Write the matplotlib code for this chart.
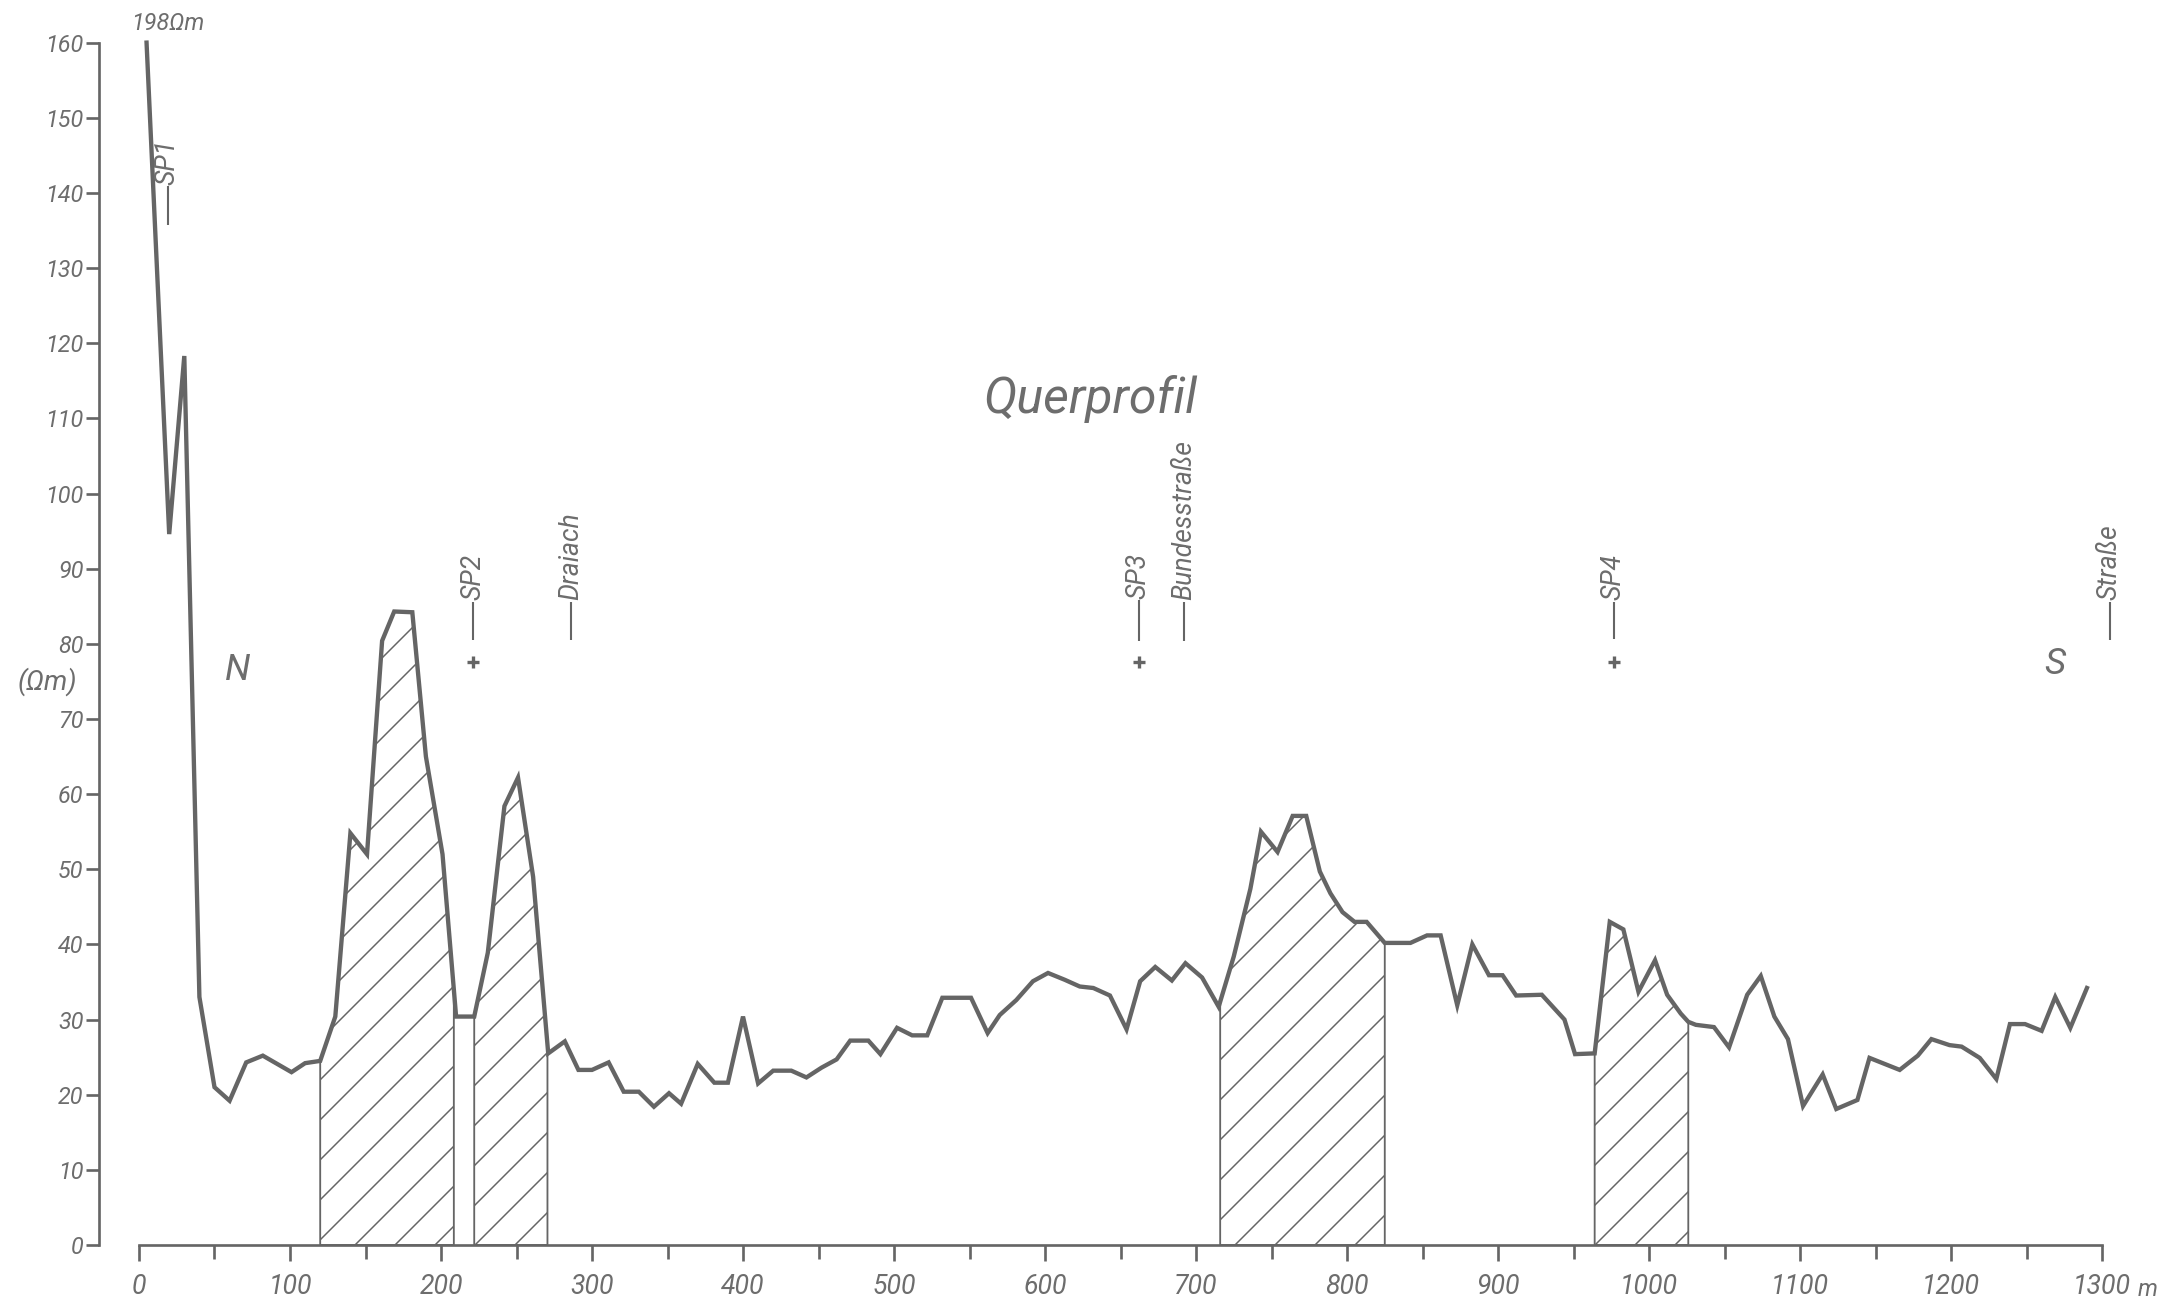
import numpy as np
import matplotlib
matplotlib.use("Agg")
import matplotlib.pyplot as plt

# Cross profile: station distance (m) and apparent resistivity (Ohm m)
distance = [5, 20, 30, 40, 50, 60, 71, 82, 101, 110, 120, 130, 140, 151, 161, 169,
            181, 190, 201, 210, 222, 231, 242, 251, 261, 271, 282, 291, 300, 311,
            321, 331, 341, 351, 359, 370, 381, 390, 400, 410, 420, 432, 442, 452,
            462, 471, 483, 491, 502, 512, 522, 532, 551, 562, 570, 581, 592, 602,
            613, 623, 632, 643, 654, 663, 673, 684, 693, 704, 715, 725, 736, 743,
            754, 764, 773, 782, 789, 797, 805, 813, 825, 842, 853, 862, 873, 883,
            894, 903, 912, 929, 944, 951, 964, 974, 983, 993, 1004, 1012, 1021,
            1026, 1031, 1043, 1053, 1065, 1074, 1083, 1092, 1102, 1115, 1124, 1138,
            1146, 1166, 1178, 1187, 1199, 1207, 1219, 1230, 1239, 1249, 1260, 1269,
            1279, 1290]
resistivity = [198, 94.6, 118.3, 33, 21, 19.2, 24.3, 25.2, 23, 24.2, 24.5, 30.4,
               54.8, 52, 80.4, 84.3, 84.2, 65, 52, 30.4, 30.4, 38.9, 58.4, 62.2, 49,
               25.5, 27.1, 23.3, 23.3, 24.3, 20.4, 20.4, 18.4, 20.2, 18.8, 24.1,
               21.6, 21.6, 30.4, 21.5, 23.2, 23.2, 22.3, 23.6, 24.7, 27.2, 27.2,
               25.4, 28.9, 27.9, 27.9, 32.9, 32.9, 28.2, 30.6, 32.6, 35.1, 36.2,
               35.3, 34.4, 34.2, 33.2, 28.7, 35.1, 37, 35.2, 37.5, 35.6, 31.7, 38.4,
               47.4, 55.0, 52.3, 57.1, 57.1, 49.7, 46.8, 44.3, 43, 43, 40.2, 40.2,
               41.2, 41.2, 31.9, 40, 35.9, 35.9, 33.2, 33.3, 30, 25.4, 25.5, 43,
               42, 33.7, 37.9, 33.3, 30.8, 29.7, 29.3, 29, 26.3, 33.3, 35.8, 30.4,
               27.4, 18.5, 22.7, 18.1, 19.3, 24.9, 23.3, 25.2, 27.4, 26.6, 26.4,
               24.9, 22.1, 29.4, 29.4, 28.5, 33, 28.9, 34.2]

# Sections of elevated resistivity (hatched)
anomaly_ranges = [(120, 208.5), (222, 270.5), (716, 825), (964, 1026)]

# Sounding points and landmarks along the profile: (label, x, tick bottom, tick top, cross)
landmarks = [("SP1", 19, 135.7, 140.9, False),
             ("SP2", 221.5, 80.5, 85.6, True),
             ("Draiach", 286, 80.5, 85.6, False),
             ("SP3", 662, 80.4, 85.8, True),
             ("Bundesstraße", 692, 80.4, 85.6, False),
             ("SP4", 976.5, 80.6, 85.6, True),
             ("Straße", 1305, 80.5, 85.6, False)]

y_ticks = list(range(0, 161, 10))
x_ticks = list(range(0, 1301, 100))
x_minor = list(range(50, 1300, 100))
y_top = 160

INK = "#656565"
TXT = "#6d6d6d"
FONT = ["Roboto", "DejaVu Sans"]
DPI = 120

plt.rcParams["font.family"] = FONT
plt.rcParams["hatch.linewidth"] = 0.9

x = np.array(distance, dtype=float)
rho = np.array(resistivity, dtype=float)
rho_plot = np.minimum(rho, y_top)  # off-scale values sit at the top of the axis

fig = plt.figure(figsize=(2157 / DPI, 1298 / DPI), dpi=DPI)
ax = fig.add_axes([0, 0, 1, 1])
ax.set_xlim(-92.05, 1336.4)
ax.set_ylim(-7.05, 165.67)

# Hatched anomaly sections
for a, b in anomaly_ranges:
    inside = (x > a) & (x < b)
    xs = np.concatenate([[a], x[inside], [b]])
    ys = np.interp(xs, x, rho_plot)
    ax.fill_between(xs, 0, ys, facecolor="none", edgecolor=INK, hatch="/",
                    linewidth=1.1, zorder=2)

# Resistivity curve
ax.plot(x, rho_plot, color=INK, lw=2.6, solid_joinstyle="miter", zorder=3)

# Axes styling
for side in ("top", "right"):
    ax.spines[side].set_visible(False)
ax.spines["left"].set_position(("data", -26.5))
ax.spines["left"].set_bounds(0, 160)
ax.spines["bottom"].set_position(("data", 0))
ax.spines["bottom"].set_bounds(0, 1300)
for side in ("left", "bottom"):
    ax.spines[side].set_color(INK)
    ax.spines[side].set_linewidth(1.6)

ax.set_yticks(y_ticks)
ax.set_yticklabels([str(v) for v in y_ticks])
ax.set_xticks(x_ticks)
ax.set_xticklabels([str(v) for v in x_ticks])
ax.set_xticks(x_minor, minor=True)
ax.tick_params(axis="y", direction="out", length=8.1, width=1.6, pad=1.2,
               colors=INK, labelcolor=TXT, labelsize=14)
ax.tick_params(axis="x", which="major", direction="out", length=9.4, width=1.6,
               pad=8, colors=INK, labelcolor=TXT, labelsize=16)
ax.tick_params(axis="x", which="minor", direction="out", length=8.1, width=1.6,
               colors=INK)
for lab in ax.get_xticklabels() + ax.get_yticklabels():
    lab.set_fontstyle("italic")

# Annotations
ax.text(1323.5, -5.9, "m", ha="left", va="center", fontsize=14, style="italic",
        color=TXT)
ax.text(-61, 75.0, "(Ωm)", ha="center", va="center", fontsize=16.5, style="italic",
        color=TXT)
ax.text(-5, 162.6, "198Ωm", ha="left", va="center", fontsize=14, style="italic",
        color=TXT)
ax.text(630, 112.6, "Querprofil", ha="center", va="center", fontsize=30,
        style="italic", color=TXT)
ax.text(65, 76.5, "N", ha="center", va="center", fontsize=22, style="italic",
        color=TXT)
ax.text(1269, 77.3, "S", ha="center", va="center", fontsize=22, style="italic",
        color=TXT)

for label, xm, lo, hi, cross in landmarks:
    ax.vlines(xm, lo, hi, color=INK, lw=1.25)
    ax.text(xm, hi + 0.2, label, rotation=90, ha="center", va="bottom",
            fontsize=16, style="italic", color=TXT)
    if cross:
        ax.plot(xm, 77.6, marker="+", ms=7.5, mew=2.0, color=INK)

fig.savefig("out.png", dpi=DPI)
